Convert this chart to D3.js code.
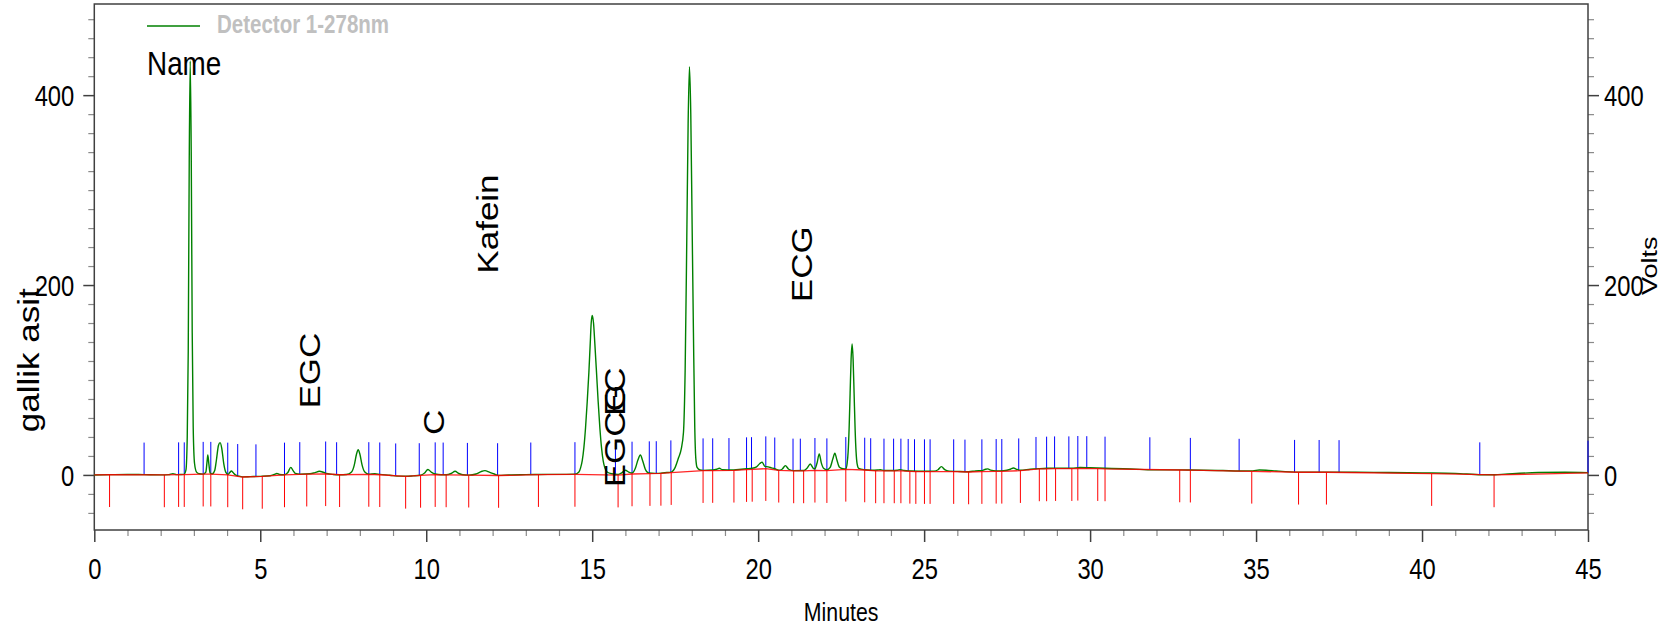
<!DOCTYPE html>
<html><head><meta charset="utf-8">
<script src="https://cdn.jsdelivr.net/npm/d3@7"></script>
<style>
html,body{margin:0;padding:0;background:#fff;}
svg{display:block;font-family:"Liberation Sans", Arial, sans-serif;}
</style></head><body>
<svg id="c" width="1675" height="629"></svg>
<script>
// ---------------- DATA ----------------
const xMajorTicks = [0, 5, 10, 15, 20, 25, 30, 35, 40, 45];
const xMinorTicks = d3.range(0, 46, 1).filter(d => d % 5 !== 0);
const yMajorTicks = [0, 200, 400];
const yMinorTicks = [-40, -20, 20, 40, 60, 80, 100, 120, 140, 160, 180, 220, 240, 260, 280, 300, 320, 340, 360, 380, 420, 440, 460, 480];

// detector trace [minutes, signal]
const trace = [
[0,0],[0.5,0.3],[1.0,0.5],[1.5,0.3],[2.0,0.1],[2.25,0.3],[2.37,1.4],[2.48,0.3],[2.6,0.4],[2.7,0.6],
[2.76,5],[2.8,40],[2.83,130],[2.86,330],[2.89,436],[2.92,340],[2.95,150],[2.98,50],[3.02,12],[3.08,3],[3.16,1.2],[3.28,0.9],
[3.36,3],[3.4,15],[3.42,21],[3.45,12],[3.49,2],[3.55,1],
[3.63,5],[3.68,16],[3.74,31],[3.79,34],[3.84,28],[3.9,12],[3.96,3],[4.03,0.5],[4.08,2.5],[4.13,4.2],[4.18,2.5],[4.25,0],[4.35,-1.2],[4.47,-2],
[4.7,-1.8],[5.0,-1.5],[5.3,-0.8],[5.42,0.5],[5.5,1.5],[5.58,0.5],[5.73,0.2],[5.83,2.5],[5.92,8],[5.99,4.5],[6.06,1.5],[6.2,0.7],[6.5,1.2],[6.65,2.5],[6.78,3.8],[6.9,2.8],[7.0,1.5],[7.2,0.5],[7.39,0.2],[7.6,0.4],
[7.75,3],[7.83,10],[7.9,22],[7.95,26.5],[8.0,22],[8.07,10],[8.15,3],[8.27,0.8],[8.45,1.2],[8.6,0.6],[8.9,-0.3],[9.2,-1.3],[9.38,-1.4],[9.6,-1],[9.83,-0.3],
[9.95,2],[10.05,5.8],[10.15,3],[10.27,1],[10.45,0.2],[10.6,0.2],[10.75,1.5],[10.87,3.8],[10.98,1.5],[11.1,0.2],[11.28,-0.2],[11.5,1],[11.65,3.5],[11.77,4.5],[11.9,3],[12.05,1],[12.18,-0.5],[12.5,0],[13.0,0.3],[13.38,0.5],[14.0,0.6],[14.48,0.8],
[14.6,3],[14.65,7.4],[14.7,15],[14.75,29],[14.8,50],[14.85,77],[14.9,108],[14.94,138],[14.97,160],[15.0,168],[15.04,160],[15.08,138],[15.13,108],[15.18,77],[15.23,50],[15.28,29],[15.33,15],[15.38,7.4],[15.45,3],[15.55,1.5],[15.78,0.5],
[15.9,2.5],[16.0,5],[16.1,3],[16.2,2],[16.3,7],[16.38,16],[16.45,21],[16.52,15],[16.6,6],[16.7,2],[16.9,1.6],[17.07,1.8],[17.25,2.5],[17.38,3],[17.5,8],[17.6,18],[17.68,27],[17.75,45],[17.8,110],[17.85,250],[17.89,370],[17.93,430],[17.97,380],[18.01,264],[18.05,150],[18.09,50],[18.12,18],[18.16,8],[18.25,5.2],[18.34,4.8],
[18.63,5.2],[18.75,6],[18.83,7],[18.92,5.5],[19.27,5.2],[19.5,6],[19.65,6.5],[19.82,7],[19.95,8.5],[20.05,12],[20.12,13.5],[20.2,9],[20.3,8.5],[20.4,7.5],[20.5,6.5],[20.62,5],[20.72,6],[20.82,9.8],[20.92,6],[21.07,4.5],[21.37,4.6],[21.47,7],[21.57,11.5],[21.66,7],[21.71,6.5],[21.77,12],[21.84,22],[21.9,13],[21.97,7],[22.07,5.5],[22.17,8],[22.25,17],[22.31,23],[22.37,16],[22.45,8],[22.55,6.5],[22.64,6.2],
[22.68,12],[22.71,24],[22.74,49],[22.77,86],[22.8,122],[22.83,138],[22.86,122],[22.89,86],[22.92,49],[22.95,24],[22.98,12],[23.03,7],[23.21,5.5],[23.4,5],[23.6,5.2],[23.68,5.5],[23.79,4.6],[24.0,4.6],[24.2,5],[24.28,5.6],[24.4,4.6],[24.6,4.2],[25.0,3.8],[25.3,4],[25.42,5.5],[25.52,8.8],[25.62,5.5],[25.75,4],[26.0,3.7],[26.34,3.4],[26.55,4.2],[26.74,4.5],[26.85,6],[26.92,6.4],[27.0,5],[27.17,4.3],[27.4,4.5],[27.6,6],[27.69,7.3],[27.8,5.8],[27.9,5],[28.2,6],[28.47,6.6],[28.7,7],[29.0,7.2],[29.45,7],[29.7,7.8],[30.0,7.5],[30.45,7],
[31.0,6.5],[31.5,5.8],[32.0,5.3],[32.7,5.3],[33.0,5.2],[34.0,4.6],[34.5,4.2],[34.9,4.3],[35.1,5.2],[35.3,5],[35.6,4.2],[36.3,3],[37.0,3],[38.0,2.8],[39.0,2.5],[40.0,2.1],[41.0,1.6],[41.8,0.2],[42.2,0.2],[42.5,0.8],[43.5,2.5],[44.3,2.8],[45.0,2.4]
];

// integration baseline [minutes, signal]
const baseline = [
[0,0],[0.46,0.2],[2.11,0],[2.54,0.3],[2.71,0.3],[3.28,0.8],[3.51,0.8],[4.02,0],[4.47,-2.2],[5.06,-1.6],[5.73,0],[6.40,0.8],[6.97,1.2],[7.39,0.2],[8.27,0.5],[8.60,0.2],[9.38,-1.5],[9.83,-0.5],[10.27,0.3],[10.60,0],[11.28,-0.3],[12.18,-0.6],[13.38,0.3],[14.48,0.5],
[15.78,-0.2],[16.20,1],[16.74,1.4],[17.07,1.6],[17.38,2.4],[18.34,4.5],[18.63,4.6],[19.27,4.9],[19.65,5.6],[19.82,5.8],[20.23,6.6],[20.62,4.9],[21.07,4.2],[21.37,4.2],[21.71,4.9],[22.07,4.5],[22.64,5.9],[23.21,5.2],[23.54,4.2],[23.79,4.2],[24.10,4.2],[24.30,4.2],[24.57,3.8],[24.75,3.5],[25.01,3.5],[25.18,3.5],[25.89,3.5],[26.34,3.1],[26.74,3.5],[27.17,3.8],[27.34,3.8],[27.90,4.5],[28.47,6.3],[28.69,6.3],[28.96,6.6],[29.45,6.6],[29.63,7],[30.23,6.6],[30.45,6.3],
[32.70,5.2],[33.02,5],[34.87,3.8],[36.28,2.8],[37.12,2.8],[40.29,1.4],[42.17,0],[45,2.1]
];

// peak-start markers (blue, up) and peak-end markers (red, down), minutes
const startMarks = [1.50,2.54,2.71,3.28,3.51,4.02,4.32,4.87,5.73,6.19,6.97,7.30,8.27,8.60,9.08,9.79,10.27,10.51,11.24,12.15,13.15,14.48,15.70,16.20,16.72,16.93,17.37,18.34,18.63,19.12,19.65,19.80,20.23,20.50,21.05,21.27,21.71,22.07,22.64,23.21,23.39,23.79,24.08,24.30,24.52,24.71,25.01,25.18,25.89,26.23,26.74,27.17,27.34,27.85,28.37,28.69,28.93,29.36,29.63,29.90,30.45,31.80,33.02,34.49,36.16,36.90,37.50,41.74,45.0];
const endMarks = [0.46,2.11,2.54,2.71,3.28,3.51,4.02,4.47,5.06,5.73,6.40,6.97,7.39,8.27,8.60,9.38,9.83,10.27,10.60,11.28,12.18,13.38,14.48,15.78,16.20,16.74,17.07,17.38,18.34,18.63,19.27,19.65,19.82,20.23,20.62,21.07,21.37,21.71,22.07,22.64,23.21,23.54,23.79,24.10,24.30,24.57,24.75,25.01,25.18,25.89,26.34,26.74,27.17,27.34,27.90,28.47,28.69,28.96,29.45,29.63,30.23,30.45,32.70,33.02,34.87,36.28,37.12,40.29,42.17];
const markLength = 34;

// peak names and anchor [minutes, signal]
const peakNames = ["gallik asit", "EGC", "C", "Kafein", "EGCG", "EC", "ECG"];
const peakAnchors = [[-1.66,45], [6.79,70], [10.53,42], [12.16,212], [15.98,-13], [15.98,62], [21.62,182]];

const legendLabel = "Detector 1-278nm";
const nameHeader = "Name";
const xTitle = "Minutes";
const yTitle = "Volts";

// ---------------- CHART ----------------
const svg = d3.select("#c");
const L = 94.3, R = 1588, T = 4, B = 530;
const x = d3.scaleLinear().domain([0, 45]).range([L, R]);
const y = d3.scaleLinear().domain([-58, 496]).range([B, T]);
const NARROW = 0.82;
const axisCol = "#404040";

const baseAt = t => {
  const i = d3.bisector(d => d[0]).left(baseline, t);
  if (i <= 0) return baseline[0][1];
  if (i >= baseline.length) return baseline[baseline.length - 1][1];
  const a = baseline[i - 1], b = baseline[i];
  return a[1] + (b[1] - a[1]) * (t - a[0]) / (b[0] - a[0]);
};

// minor ticks
function styleMinor(g) { g.select(".domain").remove(); g.selectAll("line").attr("stroke", "#8a8a8a").attr("stroke-width", 1.2); }
function styleMajor(g) { g.select(".domain").remove(); g.selectAll("line").attr("stroke", axisCol).attr("stroke-width", 1.5); }

svg.append("g").attr("transform", `translate(${L},0)`)
  .call(d3.axisLeft(y).tickValues(yMinorTicks).tickSize(6).tickFormat("")).call(styleMinor);
svg.append("g").attr("transform", `translate(${R},0)`)
  .call(d3.axisRight(y).tickValues(yMinorTicks).tickSize(6).tickFormat("")).call(styleMinor);
svg.append("g").attr("transform", `translate(0,${B})`)
  .call(d3.axisBottom(x).tickValues(xMinorTicks).tickSize(6).tickFormat("")).call(styleMinor);

const gl = svg.append("g").attr("transform", `translate(${L},0)`)
  .call(d3.axisLeft(y).tickValues(yMajorTicks).tickSize(11).tickFormat(d3.format("d"))).call(styleMajor);
gl.selectAll("text").attr("x", null).attr("dy", "0.36em").attr("fill", "#000")
  .attr("font-size", 29).attr("font-family", "Liberation Sans, Arial, sans-serif")
  .attr("transform", `translate(-20,0) scale(${NARROW},1)`);

const gr = svg.append("g").attr("transform", `translate(${R},0)`)
  .call(d3.axisRight(y).tickValues(yMajorTicks).tickSize(11).tickFormat(d3.format("d"))).call(styleMajor);
gr.selectAll("text").attr("x", null).attr("dy", "0.36em").attr("fill", "#000")
  .attr("font-size", 29).attr("font-family", "Liberation Sans, Arial, sans-serif")
  .attr("transform", `translate(16,0) scale(${NARROW},1)`);

const gb = svg.append("g").attr("transform", `translate(0,${B})`)
  .call(d3.axisBottom(x).tickValues(xMajorTicks).tickSize(12).tickFormat(d3.format("d"))).call(styleMajor);
gb.selectAll("text").attr("y", null).attr("dy", null).attr("fill", "#000")
  .attr("font-size", 29).attr("font-family", "Liberation Sans, Arial, sans-serif")
  .attr("transform", `translate(0,49) scale(${NARROW},1)`);

// frame
svg.append("rect").attr("x", L).attr("y", T).attr("width", R - L).attr("height", B - T)
  .attr("fill", "none").attr("stroke", axisCol).attr("stroke-width", 1.5);

// markers
svg.append("g").selectAll("line").data(endMarks).join("line")
  .attr("x1", d => x(d)).attr("x2", d => x(d))
  .attr("y1", d => y(baseAt(d))).attr("y2", d => y(baseAt(d) - markLength))
  .attr("stroke", "#ff0000").attr("stroke-width", 1);
svg.append("g").selectAll("line").data(startMarks).join("line")
  .attr("x1", d => x(d)).attr("x2", d => x(d))
  .attr("y1", d => y(baseAt(d))).attr("y2", d => y(baseAt(d) + markLength))
  .attr("stroke", "#0000ff").attr("stroke-width", 1);

// trace
const line = d3.line().x(d => x(d[0])).y(d => y(d[1])).curve(d3.curveMonotoneX);
svg.append("path").datum(trace).attr("d", line)
  .attr("fill", "none").attr("stroke", "#008000").attr("stroke-width", 1.4);
// baseline
svg.append("path").datum(baseline).attr("d", d3.line().x(d => x(d[0])).y(d => y(d[1])))
  .attr("fill", "none").attr("stroke", "#ff0000").attr("stroke-width", 1.3).attr("opacity", 0.85);

// peak labels (rotated)
svg.append("g").selectAll("text").data(peakNames).join("text")
  .attr("transform", (d, i) => `translate(${x(peakAnchors[i][0])},${y(peakAnchors[i][1])}) rotate(-90) scale(1,${NARROW})`)
  .attr("font-size", 35).attr("fill", "#000").text(d => d);

// legend
svg.append("line").attr("x1", 147).attr("x2", 200).attr("y1", 26).attr("y2", 26)
  .attr("stroke", "#008000").attr("stroke-width", 1.5);
svg.append("text").attr("transform", `translate(217,33) scale(${NARROW},1)`)
  .attr("font-size", 25).attr("font-weight", "bold").attr("fill", "#c0c0c0").text(legendLabel);
svg.append("text").attr("transform", `translate(147,75) scale(${NARROW},1)`)
  .attr("font-size", 34).attr("fill", "#000").text(nameHeader);

// axis titles
svg.append("text").attr("transform", `translate(${(L + R) / 2},621) scale(${NARROW},1)`)
  .attr("text-anchor", "middle").attr("font-size", 26).attr("fill", "#000").text(xTitle);
svg.append("text").attr("transform", `translate(1657,295) rotate(-90) scale(1,${NARROW})`)
  .attr("font-size", 27).attr("fill", "#000").text(yTitle);
</script>
</body></html>
